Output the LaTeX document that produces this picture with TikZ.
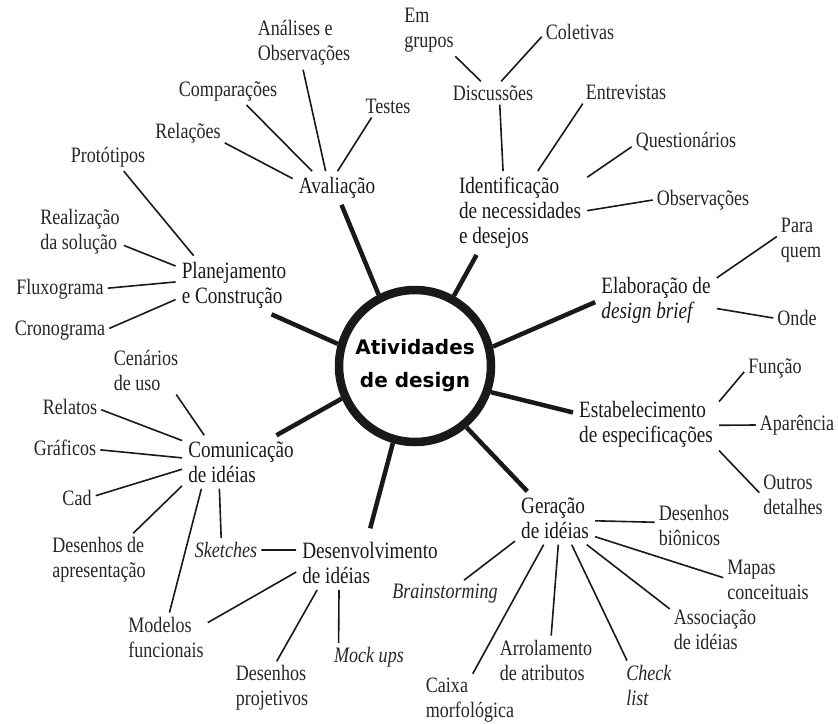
\documentclass[tikz,border=0pt]{standalone}
\usepackage{fontspec}
\setmainfont{Liberation Serif}[FakeStretch=0.82]
\newfontfamily\hubfont{DejaVu Sans}
\usepackage{tikz}
\newcommand{\leaffont}{\fontsize{22}{25}\selectfont}
\newcommand{\topicfont}{\fontsize{23.4}{25}\selectfont}
\tikzstyle{twig}=[line width=1.6pt,draw=black!90]
\tikzstyle{spoke}=[line width=4.5pt,draw=black!90]

\begin{document}
\begin{tikzpicture}[x=1pt,y=-1pt]
%\draw[help lines] (0,0) grid[step=50] (838,723);
\useasboundingbox (0,0) rectangle (838,723);
\tikzstyle{tp}=[inner sep=6pt,align=left,font=\topicfont,text=black!90]
\tikzstyle{lf}=[inner sep=4pt,align=left,font=\leaffont,text=black!85]

\node[circle,draw=black!90,line width=8.5pt,minimum size=152pt,inner sep=0pt,align=center,
  font=\hubfont\bfseries\fontsize{20}{33}\selectfont] (hub) at (415,366) {Atividades\\de design};

\node[tp] (aval) at (337,188) {Avaliação};
\node[tp] (ident) at (520,213) {Identificação\\de necessidades\\e desejos};
\node[tp] (elab) at (656,300) {Elaboração de\\\textit{design brief}};
\node[tp] (estab) at (646,424) {Estabelecimento\\de especificações};
\node[tp] (gera) at (555,518) {Geração\\de idéias};
\node[tp] (desenv) at (370,563) {Desenvolvimento\\de idéias};
\node[tp] (comun) at (241,462) {Comunicação\\de idéias};
\node[tp] (plan) at (234,285) {Planejamento\\e Construção};

\node[lf] (anal) at (304,43) {Análises e\\Observações};
\node[lf] (comp) at (228,91) {Comparações};
\node[lf] (test) at (388,106) {Testes};
\node[lf] (rel) at (188,133) {Relações};
\node[lf] (prot) at (108,157) {Protótipos};
\node[lf] (real) at (80,232) {Realização\\da solução};
\node[lf] (flux) at (60,289) {Fluxograma};
\node[lf] (cron) at (60,331) {Cronograma};
\node[lf] (cen) at (146,370) {Cenários\\de uso};
\node[lf] (relat) at (70,407) {Relatos};
\node[lf] (graf) at (65,448) {Gráficos};
\node[lf] (cad) at (77,498) {Cad};
\node[lf] (apres) at (99,560) {Desenhos de\\apresentação};
\node[lf] (mod) at (166,637) {Modelos\\funcionais};
\node[lf] (sket) at (226,550) {\textit{Sketches}};
\node[lf] (proj) at (272,688) {Desenhos\\projetivos};
\node[lf] (mock) at (369,657) {\textit{Mock ups}};
\node[lf] (brain) at (445,594) {\textit{Brainstorming}};
\node[lf] (caixa) at (470,700) {Caixa\\morfológica};
\node[lf] (arrol) at (546,660) {Arrolamento\\de atributos};
\node[lf] (check) at (649,685) {\textit{Check}\\\textit{list}};
\node[lf] (assoc) at (715,630) {Associação\\de idéias};
\node[lf] (mapas) at (768,580) {Mapas\\conceituais};
\node[lf] (bion) at (694,525) {Desenhos\\biônicos};
\node[lf] (func) at (775,368) {Função};
\node[lf] (apar) at (797,425) {Aparência};
\node[lf] (outr) at (793,495) {Outros\\detalhes};
\node[lf] (para) at (801,240) {Para\\quem};
\node[lf] (onde) at (797,318) {Onde};
\node[lf] (disc) at (493,93) {Discussões};
\node[lf] (grup) at (429,30) {Em\\grupos};
\node[lf] (colet) at (580,32) {Coletivas};
\node[lf] (entr) at (626,92) {Entrevistas};
\node[lf] (quest) at (686,142) {Questionários};
\node[lf] (obs) at (703,200) {Observações};

% spokes
\path (hub.117) edge[spoke] (aval.-75);
\path (hub.61) edge[spoke] (ident.224);
\path (hub.14) edge[spoke] (elab.182);
\path (hub.-19) edge[spoke] (estab.171);
\path (hub.-50) edge[spoke] (gera.136);
\path (hub.-106) edge[spoke,shorten >=8pt] (desenv.94);
\path (hub.204) edge[spoke] (comun.37);
\path (hub.164) edge[spoke] (plan.-38);

% twigs
\path (anal.-92) edge[twig] (aval.124);
\path (comp.-37) edge[twig] (aval.146);
\path (test.215) edge[twig] (aval.88);
\path (rel.-15) edge[twig] (aval.168);
\path (prot.-42) edge[twig] (plan.144);
\path (real.-17) edge[twig] (plan.162);
\path (flux.1) edge[twig] (plan.177);
\path (cron.3) edge[twig] (plan.194);
\path (cen.-39) edge[twig] (comun.144);
\path (relat.-5) edge[twig] (comun.160);
\path (graf.-3) edge[twig] (comun.176);
\path (cad.7) edge[twig] (comun.187);
\path (apres.38) edge[twig] (comun.202);
\path (mod.82) edge[twig] (comun.214);
\path (sket.112) edge[twig] (comun.231);
\path (sket.0) edge[twig] (desenv.170);
\path (mod.19) edge[twig] (desenv.187);
\path (proj.80) edge[twig] (desenv.207);
\path (mock.155) edge[twig] (desenv.221);
\path (brain.36) edge[twig] (gera.210);
\path (caixa.84) edge[twig] (gera.247);
\path (arrol.78) edge[twig] (gera.-83);
\path (check.132) edge[twig] (gera.-58);
\path (assoc.155) edge[twig] (gera.-40);
\path (mapas.177) edge[twig] (gera.-25);
\path (bion.176) edge[twig] (gera.-4);
\path (func.187) edge[twig] (estab.17);
\path (apar.180) edge[twig] (estab.-1);
\path (outr.176) edge[twig] (estab.-20);
\path (para.172) edge[twig] (elab.20);
\path (onde.180) edge[twig] (elab.-8);
\path (disc.-60) edge[twig] (ident.112);
\path (entr.195) edge[twig] (ident.67);
\path (quest.185) edge[twig] (ident.28);
\path (obs.180) edge[twig] (ident.2);
\path (grup.-45) edge[twig] (disc.136);
\path (colet.187) edge[twig] (disc.55);
\end{tikzpicture}
\end{document}
